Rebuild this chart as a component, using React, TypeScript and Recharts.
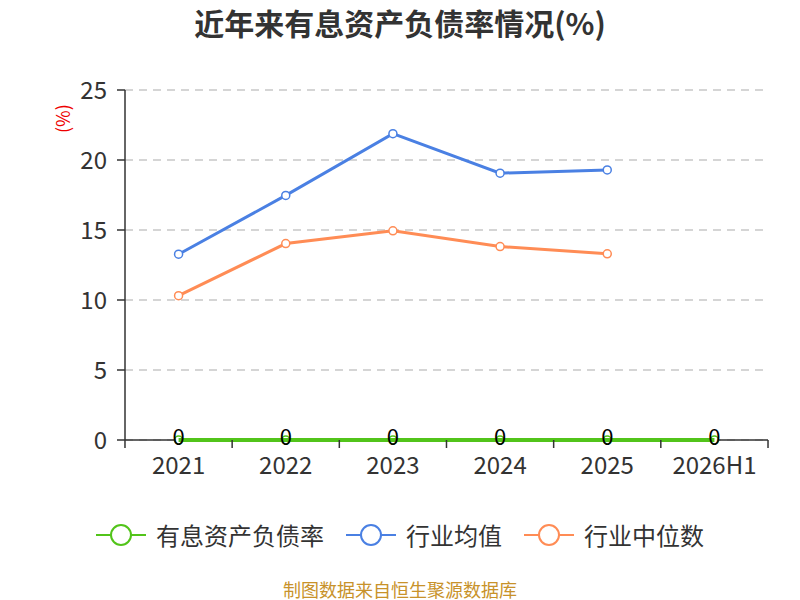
import { LineChart, Line, XAxis, YAxis, CartesianGrid, LabelList } from 'recharts'

const periods = ['2021', '2022', '2023', '2024', '2025', '2026H1']
const debtRatio = [0, 0, 0, 0, 0, 0]
const industryAvg = [13.27, 17.47, 21.88, 19.06, 19.29, null]
const industryMedian = [10.31, 14.03, 14.94, 13.82, 13.3, null]
const yTicks = [0, 5, 10, 15, 20, 25]

const FONT = '"Noto Sans CJK SC", "Noto Sans", sans-serif'
const GREEN = '#52c41a'
const BLUE = '#4a80e3'
const ORANGE = '#ff8c55'

const series = [
  { key: 'debt', name: '有息资产负债率', color: GREEN },
  { key: 'avg', name: '行业均值', color: BLUE },
  { key: 'median', name: '行业中位数', color: ORANGE },
]

const chartData = periods.map((p, i) => ({
  period: p,
  debt: debtRatio[i],
  avg: industryAvg[i],
  median: industryMedian[i],
}))

// tick marks sit between categories, labels in the middle
function XTick(props: any) {
  const { x, y, payload, index, visibleTicksCount } = props
  const half = 107.2 / 2
  const axisY = y - 8
  return (
    <g>
      <line x1={x - half} x2={x - half} y1={axisY} y2={axisY + 8} stroke="#333" strokeWidth={1.5} />
      {index === (visibleTicksCount ?? 6) - 1 && (
        <line x1={x + half} x2={x + half} y1={axisY} y2={axisY + 8} stroke="#333" strokeWidth={1.5} />
      )}
      <text x={x} y={y} dy={26} textAnchor="middle" fill="#333" fontSize={24} fontFamily={FONT}>
        {payload.value}
      </text>
    </g>
  )
}

function ZeroLabel(props: any) {
  const { x, y, value } = props
  return (
    <text x={x} y={y} dy={5} textAnchor="middle" fill="#000" fontSize={22} fontFamily={FONT}>
      {value}
    </text>
  )
}

export default function App() {
  return (
    <div style={{ position: 'absolute', left: 0, top: 0, width: 800, height: 600, background: '#fff', fontFamily: FONT, overflow: 'hidden' }}>
      <div style={{ position: 'absolute', top: 2, width: 800, textAlign: 'center', fontSize: 30, lineHeight: '40px', fontWeight: 'bold', color: '#333' }}>
        近年来有息资产负债率情况(%)
      </div>
      <LineChart width={800} height={600} data={chartData} margin={{ top: 90, right: 32, bottom: 0, left: 0 }}>
        <CartesianGrid vertical={false} stroke="#c8c8c8" strokeDasharray="8 6" strokeWidth={1.5} />
        <XAxis
          dataKey="period"
          scale="band"
          height={160}
          tickSize={8}
          tickMargin={0}
          tickLine={false}
          axisLine={{ stroke: '#333', strokeWidth: 1.5 }}
          tick={<XTick />}
          interval={0}
        />
        <YAxis
          width={125}
          domain={[0, 25]}
          ticks={yTicks}
          tickSize={8}
          tickLine={{ stroke: '#333', strokeWidth: 1.5 }}
          axisLine={{ stroke: '#333', strokeWidth: 1.5 }}
          tick={{ fill: '#333', fontSize: 24, fontFamily: FONT }}
          tickMargin={10}
          label={{ value: '(%)', angle: -90, position: 'insideTopLeft', dx: 52, dy: 38, fill: '#e00', fontSize: 18, fontFamily: FONT }}
        />
        <Line
          dataKey="avg"
          stroke={BLUE}
          strokeWidth={3}
          dot={{ r: 4, fill: '#fff', stroke: BLUE, strokeWidth: 1.5 }}
          isAnimationActive={false}
        />
        <Line
          dataKey="median"
          stroke={ORANGE}
          strokeWidth={3}
          dot={{ r: 4, fill: '#fff', stroke: ORANGE, strokeWidth: 1.5 }}
          isAnimationActive={false}
        />
        <Line
          dataKey="debt"
          stroke={GREEN}
          strokeWidth={4}
          zIndex={900}
          dot={{ r: 4, fill: '#fff', stroke: GREEN, strokeWidth: 1.5 }}
          isAnimationActive={false}
        >
          <LabelList dataKey="debt" content={<ZeroLabel />} />
        </Line>
      </LineChart>
      <div style={{ position: 'absolute', top: 520, left: 0, width: 800, display: 'flex', justifyContent: 'center', gap: 22, fontSize: 24, lineHeight: '30px', color: '#333' }}>
        {series.map((s) => (
          <div key={s.key} style={{ display: 'flex', alignItems: 'center', gap: 10 }}>
            <svg width={50} height={30}>
              <line x1={0} x2={50} y1={15} y2={15} stroke={s.color} strokeWidth={2} />
              <circle cx={25} cy={15} r={10} fill="#fff" stroke={s.color} strokeWidth={2} />
            </svg>
            <span>{s.name}</span>
          </div>
        ))}
      </div>
      <div style={{ position: 'absolute', top: 580, width: 800, textAlign: 'center', fontSize: 18, lineHeight: '18px', color: '#c8922a' }}>
        制图数据来自恒生聚源数据库
      </div>
    </div>
  )
}
